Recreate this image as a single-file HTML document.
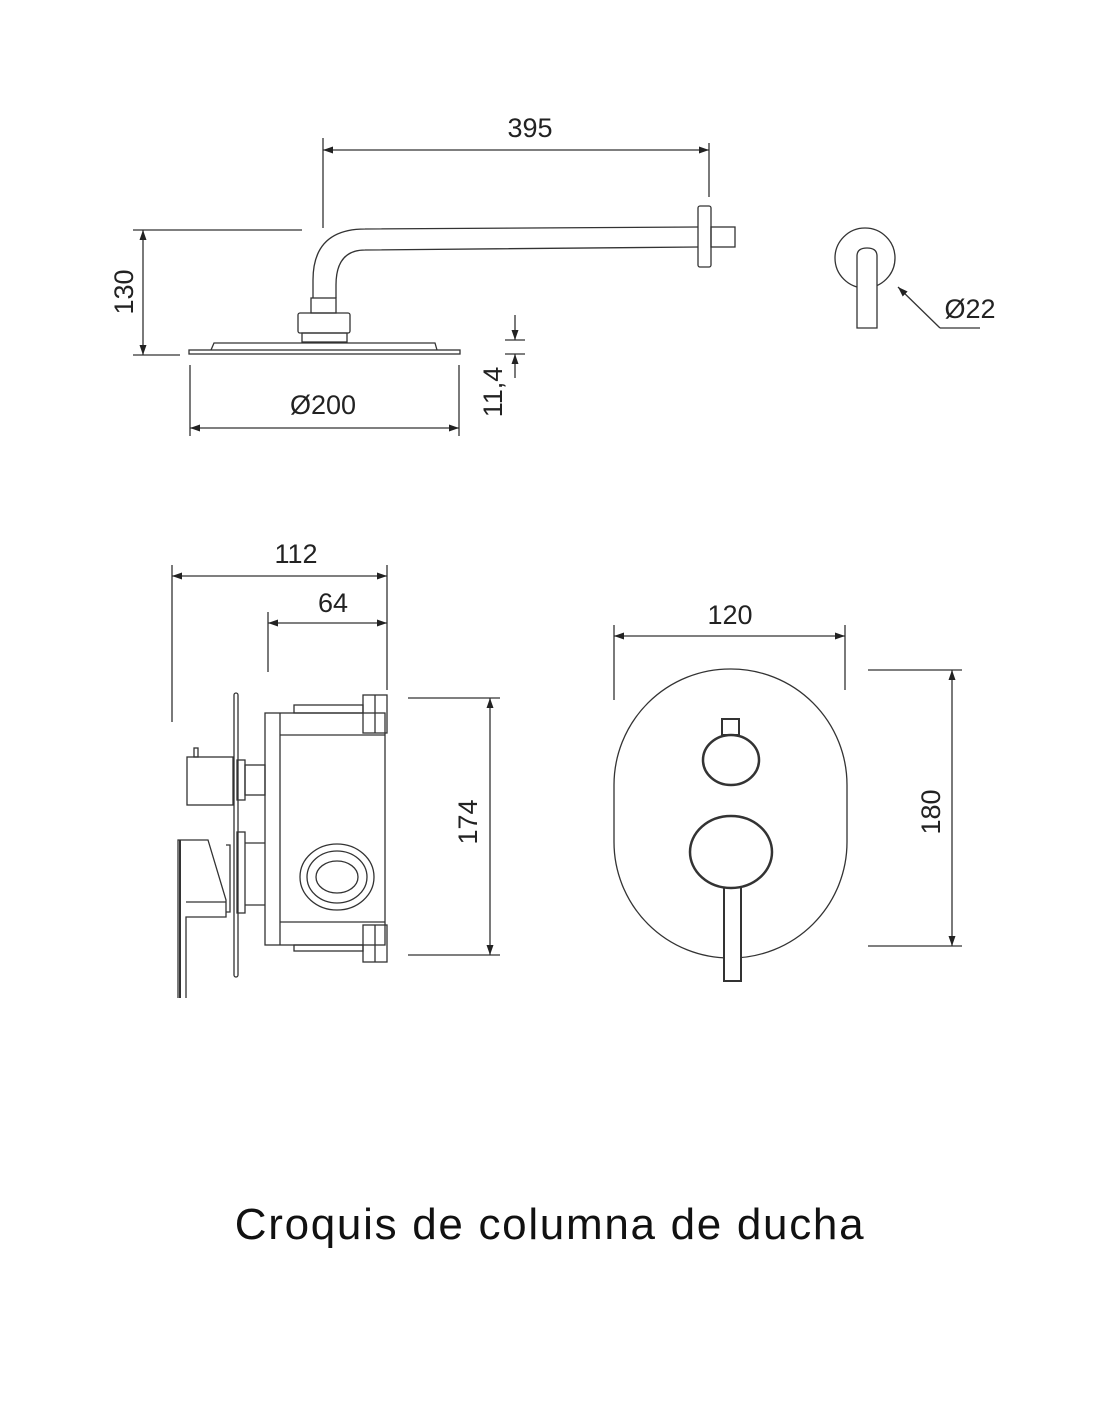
<!DOCTYPE html>
<html><head><meta charset="utf-8"><style>
html,body{margin:0;padding:0;background:#fff;}
svg{display:block;}
text{font-family:"Liberation Sans",sans-serif;fill:#222;}
</style></head><body>
<svg width="1100" height="1422" viewBox="0 0 1100 1422" xmlns="http://www.w3.org/2000/svg">
<defs>
<marker id="a" viewBox="0 0 10 10" refX="10" refY="5" markerWidth="10" markerHeight="10" markerUnits="userSpaceOnUse" orient="auto-start-reverse"><path d="M0,1.5 L10,5 L0,8.5 Z" fill="#222"/></marker>
</defs>
<g stroke="#333" stroke-width="1.3" fill="none">
<line x1="323" y1="138" x2="323" y2="228"/><line x1="709" y1="143" x2="709" y2="197"/>
<line x1="323" y1="150" x2="709" y2="150" marker-start="url(#a)" marker-end="url(#a)"/>
<line x1="133" y1="230" x2="302" y2="230"/><line x1="133" y1="355" x2="180" y2="355"/>
<line x1="143" y1="230" x2="143" y2="355" marker-start="url(#a)" marker-end="url(#a)"/>
<line x1="190" y1="365" x2="190" y2="436"/><line x1="459" y1="365" x2="459" y2="436"/>
<line x1="190" y1="428" x2="459" y2="428" marker-start="url(#a)" marker-end="url(#a)"/>
<line x1="505" y1="340" x2="525" y2="340"/><line x1="505" y1="354" x2="525" y2="354"/>
<line x1="515" y1="315" x2="515" y2="340" marker-end="url(#a)"/>
<line x1="515" y1="378" x2="515" y2="354" marker-end="url(#a)"/>
<path d="M365,229 L698,227 M365,250 L698,247 M313,298 L313,280 Q313,229 365,229 M336,298 L336,285 Q336,250 365,250"/>
<rect x="698" y="206" width="13" height="61" rx="2"/>
<rect x="711" y="227" width="24" height="20"/>
<rect x="311" y="298" width="25" height="15"/>
<rect x="298" y="313" width="52" height="20" rx="2"/>
<rect x="302" y="333" width="45" height="9"/>
<path d="M211,350 L214,343 L435,343 L437,350"/>
<rect x="189" y="350" width="271" height="4"/>
<circle cx="865" cy="258" r="30"/>
<path d="M857,328 L857,256 Q857,248 867,248 Q877,248 877,256 L877,328 Z" fill="#fff"/>
<line x1="940" y1="328" x2="898" y2="287" marker-end="url(#a)"/>
<line x1="940" y1="328" x2="980" y2="328"/>
<line x1="172" y1="565" x2="172" y2="722"/><line x1="387" y1="565" x2="387" y2="690"/>
<line x1="172" y1="576" x2="387" y2="576" marker-start="url(#a)" marker-end="url(#a)"/>
<line x1="268" y1="612" x2="268" y2="672"/>
<line x1="268" y1="623" x2="387" y2="623" marker-start="url(#a)" marker-end="url(#a)"/>
<line x1="408" y1="698" x2="500" y2="698"/><line x1="408" y1="955" x2="500" y2="955"/>
<line x1="490" y1="698" x2="490" y2="955" marker-start="url(#a)" marker-end="url(#a)"/>
<rect x="234" y="693" width="4" height="284" rx="2"/>
<rect x="265" y="713" width="120" height="232"/>
<line x1="280" y1="713" x2="280" y2="945"/>
<line x1="280" y1="735" x2="385" y2="735"/><line x1="280" y1="922" x2="385" y2="922"/>
<rect x="294" y="705" width="69" height="8"/><rect x="363" y="695" width="24" height="38"/><line x1="375" y1="695" x2="375" y2="733"/>
<rect x="294" y="945" width="69" height="6"/><rect x="363" y="925" width="24" height="37"/><line x1="375" y1="925" x2="375" y2="962"/>
<ellipse cx="337" cy="877" rx="37" ry="33"/><ellipse cx="337" cy="877" rx="30" ry="26"/><ellipse cx="337" cy="877" rx="21" ry="16"/>
<rect x="187" y="757" width="46" height="48"/><rect x="194" y="748" width="4" height="9"/>
<rect x="237" y="760" width="8" height="40"/><rect x="245" y="765" width="20" height="30"/>
<rect x="237" y="832" width="8" height="81"/><line x1="245" y1="843" x2="265" y2="843"/><line x1="245" y1="905" x2="265" y2="905"/>
<path d="M178,998 L178,840 L208,840 L226,900 L226,917 L186,917 L186,998 M186,902 L226,902 M226,845 L230,845 L230,912 L226,912"/>
<line x1="180" y1="840" x2="180" y2="998" stroke-width="2"/>
<line x1="614" y1="625" x2="614" y2="700"/><line x1="845" y1="625" x2="845" y2="690"/>
<line x1="614" y1="636" x2="845" y2="636" marker-start="url(#a)" marker-end="url(#a)"/>
<rect x="614" y="669" width="233" height="289" rx="116" ry="116"/>
<rect x="722" y="719" width="17" height="16" stroke-width="2"/>
<ellipse cx="731" cy="760" rx="28" ry="25" fill="#fff" stroke-width="2.5"/>
<rect x="724" y="885" width="17" height="96" fill="#fff" stroke-width="2"/>
<ellipse cx="731" cy="852" rx="41" ry="36" fill="#fff" stroke-width="2.5"/>
<line x1="868" y1="670" x2="962" y2="670"/><line x1="868" y1="946" x2="962" y2="946"/>
<line x1="952" y1="670" x2="952" y2="946" marker-start="url(#a)" marker-end="url(#a)"/>
</g>
<g font-size="27">
<text x="530" y="137" text-anchor="middle">395</text>
<text transform="translate(133,292) rotate(-90)" text-anchor="middle">130</text>
<text x="323" y="414" text-anchor="middle">Ø200</text>
<text transform="translate(502,392) rotate(-90)" text-anchor="middle">11,4</text>
<text x="970" y="318" text-anchor="middle">Ø22</text>
<text x="296" y="563" text-anchor="middle">112</text>
<text x="333" y="612" text-anchor="middle">64</text>
<text transform="translate(477,822) rotate(-90)" text-anchor="middle">174</text>
<text x="730" y="624" text-anchor="middle">120</text>
<text transform="translate(940,812) rotate(-90)" text-anchor="middle">180</text>
</g>
<text x="550" y="1239" text-anchor="middle" font-size="44" letter-spacing="1.7" style="fill:#111">Croquis de columna de ducha</text>
</svg>
</body></html>
